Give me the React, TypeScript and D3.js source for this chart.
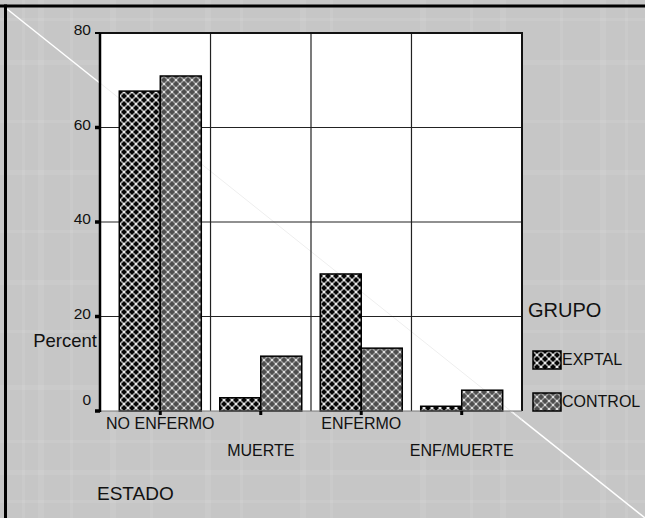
import React, { useEffect } from 'react';
import * as d3 from 'd3';

const categories = ['NO ENFERMO', 'MUERTE', 'ENFERMO', 'ENF/MUERTE'];
const groups = ['EXPTAL', 'CONTROL'];
const exptal = [67.7, 2.8, 29.0, 1.0];
const control = [70.9, 11.6, 13.3, 4.4];
const yTicks = [0, 20, 40, 60, 80];

const W = 645;
const H = 518;
const font = '"Liberation Sans", Arial, sans-serif';

function App() {
  useEffect(() => {
    document.body.style.margin = '0';
    document.body.style.overflow = 'hidden';
  }, []);

  // plot box
  const left = 100, right = 522, top = 33, bottom = 411;

  const x = d3.scalePoint<string>()
    .domain(categories)
    .range([left, right])
    .padding(0.6);

  const y = d3.scaleLinear()
    .domain([0, 80])
    .range([bottom, top]);

  const barW = 41;
  const step = x.step();

  // gridlines sit halfway between categories
  const vGrid = categories.slice(1).map(c => (x(c) as number) - step / 2);

  const series = [exptal, control];

  // faint plaid in the background
  const stripesX = [22, 38, 70, 110, 150, 205, 240, 300, 330, 420, 470, 500, 560, 600, 625];
  const stripesY = [18, 60, 120, 170, 230, 280, 330, 385, 440, 470, 500];

  return (
    <svg width={W} height={H} style={{ position: 'fixed', left: 0, top: 0, display: 'block' }}>
      <defs>
        <pattern id="pat-exptal" width={8} height={8} patternUnits="userSpaceOnUse">
          <rect width={8} height={8} fill="#050505" />
          <path d="M0,0L8,8M8,0L0,8" stroke="#a8a8a8" strokeWidth={1.6} />
          <circle cx={4} cy={4} r={1.1} fill="#fff" />
          <circle cx={0} cy={0} r={1.1} fill="#fff" />
          <circle cx={8} cy={0} r={1.1} fill="#fff" />
          <circle cx={0} cy={8} r={1.1} fill="#fff" />
          <circle cx={8} cy={8} r={1.1} fill="#fff" />
        </pattern>
        <pattern id="pat-control" width={8} height={8} patternUnits="userSpaceOnUse">
          <rect width={8} height={8} fill="#4e4e4e" />
          <path d="M0,0L8,8M8,0L0,8" stroke="#a0a0a0" strokeWidth={1.5} />
          <circle cx={4} cy={4} r={1.1} fill="#eee" />
          <circle cx={0} cy={0} r={1.1} fill="#eee" />
          <circle cx={8} cy={0} r={1.1} fill="#eee" />
          <circle cx={0} cy={8} r={1.1} fill="#eee" />
          <circle cx={8} cy={8} r={1.1} fill="#eee" />
        </pattern>
      </defs>

      {/* background */}
      <rect x={0} y={0} width={W} height={H} fill="#c6c6c6" />
      {stripesX.map((s, i) => (
        <rect key={'sx' + i} x={s} y={0} width={i % 2 ? 6 : 3} height={H} fill="#fff" opacity={0.08} />
      ))}
      {stripesY.map((s, i) => (
        <rect key={'sy' + i} x={0} y={s} width={W} height={i % 2 ? 5 : 3} fill="#fff" opacity={0.08} />
      ))}
      <line x1={7} y1={9} x2={W} y2={H} stroke="#fff" strokeWidth={1.5} />
      <line x1={0} x2={W} y1={6} y2={6} stroke="#000" strokeWidth={3} />
      <line x1={5.5} x2={5.5} y1={4.5} y2={H} stroke="#000" strokeWidth={3} />

      {/* plot area */}
      <rect x={left} y={top} width={right - left} height={bottom - top} fill="#fff" />
      <line x1={left} y1={83} x2={right} y2={420} stroke="#eee" strokeWidth={1} />

      {yTicks.filter(t => t > 0 && t < 80).map(t => (
        <line key={'hg' + t} x1={left} x2={right} y1={y(t)} y2={y(t)} stroke="#222" strokeWidth={1.2} />
      ))}
      {vGrid.map((g, i) => (
        <line key={'vg' + i} x1={g} x2={g} y1={top} y2={bottom} stroke="#222" strokeWidth={1.2} />
      ))}

      {/* bars */}
      {categories.map((c, ci) => (
        <g key={c}>
          {series.map((s, si) => {
            const cx = x(c) as number;
            const bx = si === 0 ? cx - barW : cx;
            return (
              <rect
                key={si}
                x={bx}
                y={y(s[ci])}
                width={barW}
                height={bottom - y(s[ci])}
                fill={si === 0 ? 'url(#pat-exptal)' : 'url(#pat-control)'}
                stroke="#000"
                strokeWidth={1.5}
              />
            );
          })}
        </g>
      ))}

      {/* frame */}
      <line x1={95} x2={right + 1} y1={top} y2={top} stroke="#111" strokeWidth={2} />
      <line x1={right} x2={right} y1={top} y2={bottom} stroke="#111" strokeWidth={2} />
      <line x1={left} x2={right} y1={bottom} y2={bottom} stroke="#777" strokeWidth={1} />
      <line x1={left} x2={left} y1={top} y2={bottom + 1} stroke="#000" strokeWidth={2.5} />

      {/* y axis ticks and labels */}
      {yTicks.map(t => (
        <g key={'yt' + t}>
          <line x1={95} x2={100} y1={y(t)} y2={y(t)} stroke="#000" strokeWidth={t === 80 ? 2 : 3.5} />
          <text
            x={91}
            y={t === 0 ? y(t) - 10 : y(t) - 2}
            textAnchor="end"
            dominantBaseline="middle"
            fontFamily={font}
            fontSize={15.5}
            fill="#111"
          >
            {t}
          </text>
        </g>
      ))}
      <text x={97} y={342} textAnchor="end" dominantBaseline="middle" fontFamily={font} fontSize={18.5} fill="#111">
        Percent
      </text>

      {/* x axis ticks and labels */}
      {categories.map((c, i) => (
        <g key={'xt' + c}>
          <line x1={x(c) as number} x2={x(c) as number} y1={bottom} y2={bottom + 4} stroke="#000" strokeWidth={3} />
          <text
            x={x(c) as number}
            y={i % 2 === 0 ? 425 : 451.5}
            textAnchor="middle"
            dominantBaseline="middle"
            fontFamily={font}
            fontSize={16}
            fill="#111"
          >
            {c}
          </text>
        </g>
      ))}
      <text x={97} y={495} dominantBaseline="middle" fontFamily={font} fontSize={19} fill="#111">
        ESTADO
      </text>

      {/* legend */}
      <text x={528} y={312} dominantBaseline="middle" fontFamily={font} fontSize={20} fill="#111">
        GRUPO
      </text>
      {groups.map((g, i) => (
        <g key={g} transform={`translate(533, ${351 + i * 42})`}>
          <rect
            width={28}
            height={18}
            fill={i === 0 ? 'url(#pat-exptal)' : 'url(#pat-control)'}
            stroke="#000"
            strokeWidth={1.5}
          />
          <text x={29} y={10} dominantBaseline="middle" fontFamily={font} fontSize={16} fill="#111">
            {g}
          </text>
        </g>
      ))}
    </svg>
  );
}

export default App;
